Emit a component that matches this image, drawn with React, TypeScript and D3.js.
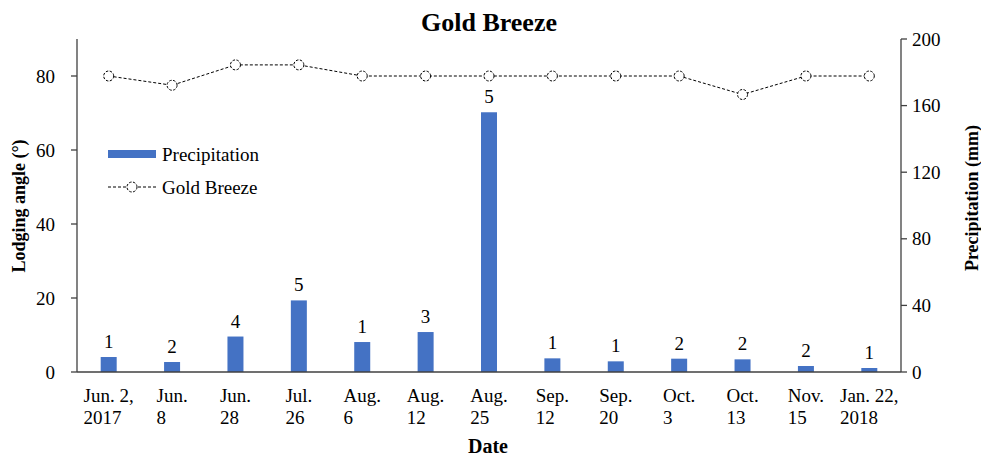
import React, { useLayoutEffect, useRef } from "react";
import * as d3 from "d3";

const labelsLine1 = ["Jun. 2,", "Jun.", "Jun.", "Jul.", "Aug.", "Aug.", "Aug.", "Sep.", "Sep.", "Oct.", "Oct.", "Nov.", "Jan. 22,"];
const labelsLine2 = ["2017", "8", "28", "26", "6", "12", "25", "12", "20", "3", "13", "15", "2018"];
const precipitation = [9, 6, 21.3, 43, 18, 24, 156, 8.2, 6.4, 8, 7.6, 3.6, 2.4];
const rainDays = [1, 2, 4, 5, 1, 3, 5, 1, 1, 2, 2, 2, 1];
const lodgingAngle = [80, 77.5, 83, 83, 80, 80, 80, 80, 80, 80, 75, 80, 80];
const leftTicks = [0, 20, 40, 60, 80];
const rightTicks = [0, 40, 80, 120, 160, 200];

const W = 981, H = 456;
const L = 77, R = 901, T = 39, B = 372;
const FONT = "'Liberation Serif', 'Times New Roman', serif";
const AX = "#404040";
const FS = 19;

export default function App() {
  const ref = useRef<SVGGElement>(null);
  const idx = labelsLine1.map((_, i) => i);
  const x = d3.scaleBand<number>().domain(idx).range([L, R]);
  const yL = d3.scaleLinear().domain([0, 90]).range([B, T]);
  const yR = d3.scaleLinear().domain([0, 200]).range([B, T]);
  const cx = (i: number) => (x(i) as number) + x.bandwidth() / 2;
  const barW = 16;
  const line = d3.line<number>().x((_, i) => cx(i)).y((d) => yL(d));

  useLayoutEffect(() => {
    if (!ref.current) return;
    d3.select(ref.current).selectAll<SVGTextElement, unknown>("text.xl").each(function () {
      const i = +(this.getAttribute("data-i") as string);
      const w = this.getBBox().width;
      d3.select(this).attr("transform", `translate(${cx(i) - w / 2},0)`);
    });
  }, []);

  return (
    <svg width={W} height={H} style={{ position: "absolute", left: 0, top: 0, fontFamily: FONT }}>
      <rect width={W} height={H} fill="#fff" />
      <text x={(L + R) / 2} y={31} textAnchor="middle" fontSize={26} fontWeight="bold">Gold Breeze</text>

      {/* bars */}
      {precipitation.map((v, i) => (
        <rect key={"b" + i} x={cx(i) - barW / 2} y={yR(v)} width={barW} height={B - yR(v)} fill="#4472C4" />
      ))}
      {rainDays.map((v, i) => (
        <text key={"v" + i} x={cx(i)} y={yR(precipitation[i]) - 9} textAnchor="middle" fontSize={FS}>{v}</text>
      ))}

      {/* line */}
      <path d={line(lodgingAngle) || ""} fill="none" stroke="#000" strokeWidth={1} strokeDasharray="3,2" />
      {lodgingAngle.map((v, i) => (
        <circle key={"c" + i} cx={cx(i)} cy={yL(v)} r={5} fill="#fff" stroke="#000" strokeWidth={1} strokeDasharray="2.5,1.5" />
      ))}

      {/* axes */}
      <line x1={L} x2={L} y1={T} y2={B} stroke={AX} strokeWidth={1.3} />
      <line x1={R} x2={R} y1={T} y2={B} stroke={AX} strokeWidth={1.3} />
      <line x1={L} x2={R} y1={B} y2={B} stroke={AX} strokeWidth={1.3} />
      {leftTicks.map((t) => (
        <g key={"lt" + t}>
          <line x1={L - 6} x2={L} y1={yL(t)} y2={yL(t)} stroke={AX} strokeWidth={1.3} />
          <text x={L - 22} y={yL(t)} dy="0.35em" textAnchor="end" fontSize={FS}>{t}</text>
        </g>
      ))}
      {rightTicks.map((t) => (
        <g key={"rt" + t}>
          <line x1={R} x2={R + 6} y1={yR(t)} y2={yR(t)} stroke={AX} strokeWidth={1.3} />
          <text x={R + 11} y={yR(t)} dy="0.35em" textAnchor="start" fontSize={FS}>{t}</text>
        </g>
      ))}

      <g ref={ref}>
        {labelsLine1.map((l, i) => (
          <text key={"x" + i} className="xl" data-i={i} x={0} y={402} fontSize={FS}>
            <tspan x={0}>{l}</tspan>
            <tspan x={0} dy={21.5}>{labelsLine2[i]}</tspan>
          </text>
        ))}
      </g>

      <text x={488} y={453} textAnchor="middle" fontSize={20} fontWeight="bold">Date</text>
      <text transform={`translate(25,206) rotate(-90)`} textAnchor="middle" fontSize={18} fontWeight="bold">Lodging angle (°)</text>
      <text transform={`translate(978,198) rotate(-90)`} textAnchor="middle" fontSize={18} fontWeight="bold">Precipitation (mm)</text>

      {/* legend */}
      <rect x={108} y={150} width={48} height={8} fill="#4472C4" />
      <text x={162} y={154} dy="0.35em" fontSize={FS}>Precipitation</text>
      <line x1={108} x2={156} y1={187} y2={187} stroke="#000" strokeWidth={1} strokeDasharray="3,2" />
      <circle cx={132} cy={187} r={5} fill="#fff" stroke="#000" strokeWidth={1} strokeDasharray="2.5,1.5" />
      <text x={162} y={187} dy="0.35em" fontSize={FS}>Gold Breeze</text>
    </svg>
  );
}
